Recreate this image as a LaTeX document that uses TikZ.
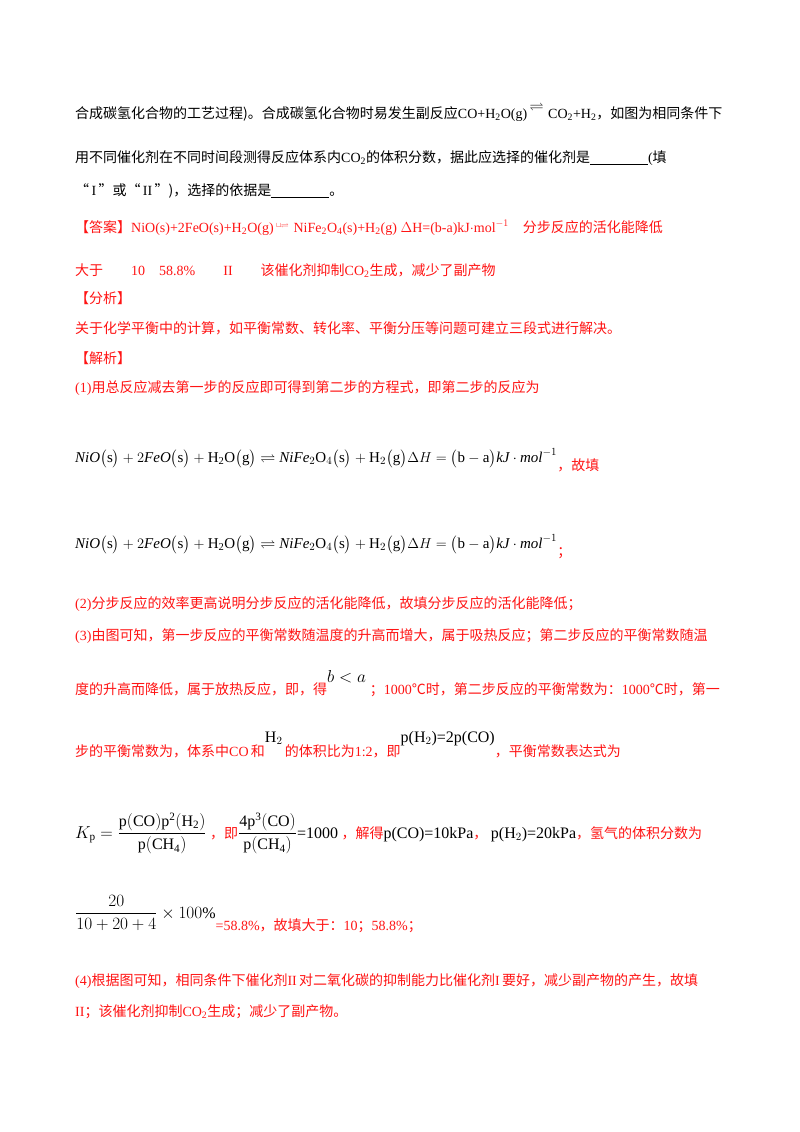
\documentclass[tikz,border=0pt]{standalone}
\usepackage{fontspec}
\usepackage{amsmath,amssymb}
\setmainfont{Liberation Serif}
\newfontfamily\cjk{Noto Sans CJK SC}
\newcommand{\zh}[1]{{\cjk #1}}
\newcommand{\bgm}{\fontsize{16}{18}\selectfont}
\definecolor{ans}{RGB}{255,20,20}
\begin{document}
\begin{tikzpicture}[x=1pt,y=1pt,
  t/.style={anchor=base west,inner sep=0pt,font=\fontsize{14}{16}\selectfont},
  r/.style={t,text=ans}]
\useasboundingbox[fill=white] (0,0) rectangle (800,-1132);
\node[t] (l1) at (75,-118) {\zh{合成碳氢化合物的工艺过程)。合成碳氢化合物时易发生副反应}CO+H\textsubscript{2}O(g)\,\raisebox{8pt}{$\rightleftharpoons$}\,\,CO\textsubscript{2}+H\textsubscript{2}\zh{，如图为相同条件下}};
\node[t] (l2) at (75,-162) {\zh{用不同催化剂在不同时间段测得反应体系内}CO\textsubscript{2}\zh{的体积分数，据此应选择的催化剂是}\rule[-2pt]{58pt}{0.5pt}(\zh{填}};
\node[t] (l3) at (75,-195) {\zh{“}\,I\,\zh{”或“}\,II\,\zh{”)，选择的依据是}\rule[-2pt]{58pt}{0.5pt}\zh{。}};
\node[r] (l4) at (75,-232) {\zh{【答案】}NiO(s)+2FeO(s)+H\textsubscript{2}O(g)\,\raisebox{5pt}{\scriptsize$\sqcup\!\!\rightleftharpoons$}\,\,NiFe\textsubscript{2}O\textsubscript{4}(s)+H\textsubscript{2}(g) $\Delta$H=(b-a)kJ$\cdot$mol\textsuperscript{$-1$}\quad\zh{分步反应的活化能降低}};
\node[r] (l5) at (75,-275) {\zh{大于}\qquad10\quad58.8\%\qquad II\qquad\zh{该催化剂抑制}CO\textsubscript{2}\zh{生成，减少了副产物}};
\node[r] (l6) at (75,-303) {\zh{【分析】}};
\node[r] (l7) at (75,-333) {\zh{关于化学平衡中的计算，如平衡常数、转化率、平衡分压等问题可建立三段式进行解决。}};
\node[r] (l8) at (75,-363) {\zh{【解析】}};
\node[r] (l9) at (75,-392) {(1)\zh{用总反应减去第一步的反应即可得到第二步的方程式，即第二步的反应为}};
\node[t,font=\fontsize{15}{17}\selectfont] (e1) at (75,-462) {$\mathit{NiO}\big(\mathrm{s}\big)+2\mathit{FeO}\big(\mathrm{s}\big)+\mathrm{H_2O}\big(\mathrm{g}\big)\rightleftharpoons \mathit{NiFe}_2\mathrm{O}_4\big(\mathrm{s}\big)+\mathrm{H}_2\big(\mathrm{g}\big)\Delta H=\big(\mathrm{b}-\mathrm{a}\big)\mathit{kJ}\cdot \mathit{mol}^{-1}$};
\node[r] (e1b) at (e1.base east) [anchor=base west,yshift=-8pt] {\zh{，故填}};
\node[t,font=\fontsize{15}{17}\selectfont] (e2) at (75,-548) {$\mathit{NiO}\big(\mathrm{s}\big)+2\mathit{FeO}\big(\mathrm{s}\big)+\mathrm{H_2O}\big(\mathrm{g}\big)\rightleftharpoons \mathit{NiFe}_2\mathrm{O}_4\big(\mathrm{s}\big)+\mathrm{H}_2\big(\mathrm{g}\big)\Delta H=\big(\mathrm{b}-\mathrm{a}\big)\mathit{kJ}\cdot \mathit{mol}^{-1}$};
\node[r] (e2b) at (e2.base east) [anchor=base west,yshift=-8pt] {\zh{；}};
\node[r] (l10) at (75,-608) {(2)\zh{分步反应的效率更高说明分步反应的活化能降低，故填分步反应的活化能降低；}};
\node[r] (l11) at (75,-640) {(3)\zh{由图可知，第一步反应的平衡常数随温度的升高而增大，属于吸热反应；第二步反应的平衡常数随温}};
\node[r] (l12) at (75,-694) {\zh{度的升高而降低，属于放热反应，即，得}\raisebox{12pt}{\textcolor{black}{\bgm$b<a$}}\;\zh{；}1000\zh{℃时，第二步反应的平衡常数为：}1000\zh{℃时，第一}};
\node[r] (l13) at (75,-756) {\zh{步的平衡常数为，体系中}CO\,\zh{和}\raisebox{14pt}{\textcolor{black}{\bgm H$_2$}}\,\zh{的体积比为}1:2\zh{，即}\raisebox{14pt}{\textcolor{black}{\bgm p(H$_2$)=2p(CO)}}\zh{，平衡常数表达式为}};
\node[r] (l14) at (75,-838) {\textcolor{black}{\bgm$K_{\mathrm p}=\dfrac{\mathrm{p(CO)p^2(H_2)}}{\mathrm{p(CH_4)}}$}\ \zh{，即}\textcolor{black}{\bgm$\dfrac{\mathrm{4p^3(CO)}}{\mathrm{p(CH_4)}}$=1000}\ \zh{，解得}\textcolor{black}{\bgm p(CO)=10kPa}\zh{，}\ \textcolor{black}{\bgm p(H$_2$)=20kPa}\zh{，氢气的体积分数为}};
\node[r] (l15) at (75,-930) {\raisebox{12pt}{\textcolor{black}{\bgm$\dfrac{20}{10+20+4}\times 100\%$}}=58.8\%\zh{，故填大于：}10\zh{；}58.8\%\zh{；}};
\node[r] (l16) at (75,-985) {(4)\zh{根据图可知，相同条件下催化剂}II\,\zh{对二氧化碳的抑制能力比催化剂}I\,\zh{要好，减少副产物的产生，故填}};
\node[r] (l17) at (75,-1016) {II\zh{；该催化剂抑制}CO\textsubscript{2}\zh{生成；减少了副产物。}};
\end{tikzpicture}
\end{document}
